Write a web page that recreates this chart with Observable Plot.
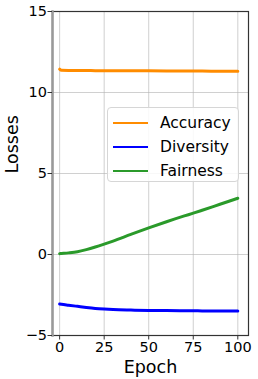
<!DOCTYPE html>
<html>
<head>
<meta charset="utf-8">
<script src="https://cdn.jsdelivr.net/npm/d3@7"></script>
<script src="https://cdn.jsdelivr.net/npm/@observablehq/plot@0.6"></script>
<style>
  html, body { margin: 0; padding: 0; background: #fff; }
  #wrap { position: relative; width: 258px; height: 379px; font-family: "DejaVu Sans", sans-serif; }
  #legend { position: absolute; left: 107px; top: 107px; width: 132px; height: 75px;
    border: 1px solid #d6d6d6; border-radius: 4px; background: rgba(255,255,255,0.85); box-sizing: border-box; }
  .row { position: absolute; left: 0; height: 20px; display: flex; align-items: center; }
  .sw { width: 35px; height: 2.5px; margin-left: 5px; }
  .lab { margin-left: 12px; font-size: 15.5px; color: #000; }
</style>
</head>
<body>
<div id="wrap"></div>
<script>
const seriesNames = ["Accuracy", "Diversity", "Fairness"];
const seriesColors = ["#ff8c00", "#0000ff", "#2a9a2a"];
const epochs = [0, 1, 5, 10, 15, 20, 25, 30, 40, 50, 60, 70, 75, 80, 90, 100];
const accuracy = [11.44, 11.37, 11.36, 11.36, 11.36, 11.35, 11.35, 11.35, 11.34, 11.34, 11.33, 11.32, 11.32, 11.32, 11.31, 11.31];
const diversity = [-3.05, -3.07, -3.13, -3.2, -3.27, -3.33, -3.37, -3.4, -3.43, -3.45, -3.46, -3.47, -3.47, -3.48, -3.48, -3.48];
const fairness = [0.05, 0.06, 0.1, 0.17, 0.3, 0.46, 0.64, 0.83, 1.24, 1.64, 2.02, 2.38, 2.55, 2.73, 3.1, 3.47];
const xTicks = [0, 25, 50, 75, 100];
const yTicks = [-5, 0, 5, 10, 15];

const valuesBySeries = [accuracy, diversity, fairness];
const data = [];
seriesNames.forEach((s, i) => epochs.forEach((e, j) => data.push({series: s, epoch: e, loss: valuesBySeries[i][j]})));

const chart = Plot.plot({
  width: 258, height: 379,
  marginLeft: 52, marginRight: 10, marginTop: 11, marginBottom: 44,
  style: {fontFamily: "DejaVu Sans, sans-serif", fontSize: "14.5px", color: "#000", background: "#fff"},
  x: {domain: [-4, 106], label: null},
  y: {domain: [-5, 15], label: null},
  color: {domain: seriesNames, range: seriesColors},
  marks: [
    Plot.gridX(xTicks, {stroke: "#b0b0b0", strokeOpacity: 0.6, strokeWidth: 1}),
    Plot.gridY(yTicks, {stroke: "#b0b0b0", strokeOpacity: 0.6, strokeWidth: 1}),
    Plot.line(data, {x: "epoch", y: "loss", z: "series", stroke: "series", strokeWidth: 3, curve: "monotone-x"}),
    Plot.frame({stroke: "#333", strokeWidth: 1.2}),
    Plot.frame({anchor: "left", stroke: "#999", strokeWidth: 2.5}),
    Plot.axisX(xTicks, {tickSize: 4.5, tickPadding: 2, fontSize: 14.5, stroke: "#333", label: null}),
    Plot.axisY(yTicks, {tickSize: 4.5, tickPadding: 1, fontSize: 14.5, stroke: "#333", label: null, tickFormat: d => d < 0 ? "\u2212" + Math.abs(d) : String(d)}),
    Plot.text(["Losses"], {frameAnchor: "left", dx: -40, rotate: -90, fontSize: 17.5, fill: "#000"}),
    Plot.text(["Epoch"], {frameAnchor: "bottom", dy: 32, fontSize: 17.5, fill: "#000", lineAnchor: "middle"})
  ]
});

const wrap = document.getElementById("wrap");
wrap.appendChild(chart);
const legend = document.createElement("div");
legend.id = "legend";
seriesNames.forEach((s, i) => {
  const row = document.createElement("div");
  row.className = "row";
  row.style.top = (5 + i * 24) + "px";
  const sw = document.createElement("div");
  sw.className = "sw";
  sw.style.background = seriesColors[i];
  const lab = document.createElement("div");
  lab.className = "lab";
  lab.textContent = s;
  row.appendChild(sw); row.appendChild(lab);
  legend.appendChild(row);
});
wrap.appendChild(legend);
</script>
</body>
</html>
